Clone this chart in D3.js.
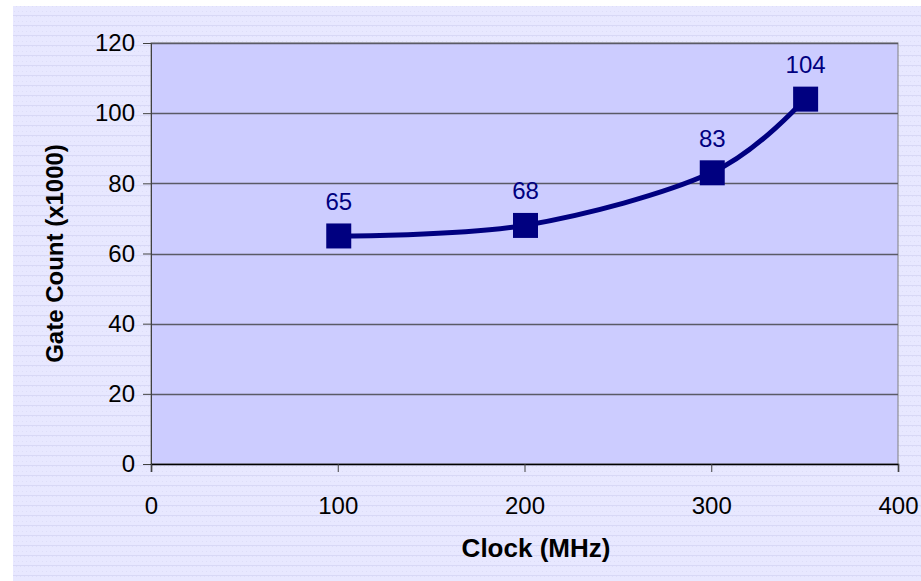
<!DOCTYPE html>
<html><head><meta charset="utf-8">
<script src="https://cdn.jsdelivr.net/npm/d3@7"></script>
<style>body{margin:0;background:#fff}svg{display:block}</style>
</head><body>
<svg id="c" width="921" height="581"></svg>
<script>
const clockMHz = [100, 200, 300, 350];
const gateCount = [65, 68, 83, 104];
const xTicks = [0, 100, 200, 300, 400];
const yTicks = [0, 20, 40, 60, 80, 100, 120];

const svg = d3.select("#c");
const W = 921, H = 581;
const FONT = "Liberation Sans, Arial, sans-serif";
const defs = svg.append("defs");
const pat = defs.append("pattern").attr("id","bgp").attr("patternUnits","userSpaceOnUse")
  .attr("width",4).attr("height",10).attr("y",6);
pat.append("rect").attr("width",4).attr("height",10).attr("fill","#e8e8ff");
pat.append("rect").attr("x",0).attr("y",0).attr("width",1).attr("height",1).attr("fill","#dedef8");
pat.append("rect").attr("x",2).attr("y",5).attr("width",1).attr("height",1).attr("fill","#dedef8");
pat.append("rect").attr("x",0).attr("y",9).attr("width",4).attr("height",1).attr("fill","#d8d8f6");

svg.append("rect").attr("x",13).attr("y",6).attr("width",W-13).attr("height",H-6).attr("fill","url(#bgp)");

const m = {left:151, right:898, top:43, bottom:464};
const x = d3.scaleLinear().domain([0,400]).range([m.left, m.right]);
const y = d3.scaleLinear().domain([0,120]).range([m.bottom, m.top]);

svg.append("rect").attr("x",m.left).attr("y",m.top).attr("width",m.right-m.left).attr("height",m.bottom-m.top)
  .attr("fill","#ccccff").attr("stroke","#808080").attr("stroke-width",1);

// gridlines
svg.append("g").selectAll("line").data(yTicks.filter(d=>d>0)).join("line")
  .attr("x1",m.left).attr("x2",m.right).attr("y1",d=>Math.round(y(d))+0.5).attr("y2",d=>Math.round(y(d))+0.5)
  .attr("stroke","#5a5a66").attr("stroke-width",1.3);

// axes
const yAxis = d3.axisLeft(y).tickValues(yTicks).tickSize(8).tickPadding(8).tickFormat(d3.format("d"));
const gy = svg.append("g").attr("transform",`translate(${m.left},0)`).call(yAxis);
gy.select(".domain").attr("stroke","#404040");
gy.selectAll(".tick line").attr("stroke","#404040");
gy.selectAll("text").attr("font-family",FONT).attr("font-size",24).attr("fill","#000");

const xAxis = d3.axisBottom(x).tickValues(xTicks).tickSize(8).tickPadding(25).tickFormat(d3.format("d"));
const gx = svg.append("g").attr("transform",`translate(0,${m.bottom})`).call(xAxis);
gx.select(".domain").attr("stroke","#000").attr("stroke-width",1.5);
gx.selectAll(".tick line").attr("stroke","#404040");
gx.selectAll("text").attr("font-family",FONT).attr("font-size",24).attr("fill","#000");

// titles
svg.append("text").attr("x",536).attr("y",557).attr("text-anchor","middle")
  .attr("font-family",FONT).attr("font-weight","bold").attr("font-size",26)
  .text("Clock (MHz)");
svg.append("text").attr("transform",`translate(63,${(m.top+m.bottom)/2}) rotate(-90)`).attr("text-anchor","middle")
  .attr("font-family",FONT).attr("font-weight","bold").attr("font-size",24)
  .text("Gate Count (x1000)");

const data = clockMHz.map((c,i)=>({c, v:gateCount[i]}));
const line = d3.line().x(d=>x(d.c)).y(d=>y(d.v)).curve(d3.curveCatmullRom.alpha(0));
svg.append("path").datum(data).attr("d",line).attr("fill","none").attr("stroke","#000080").attr("stroke-width",5);

const s = 25;
svg.append("g").selectAll("rect").data(data).join("rect")
  .attr("x",d=>x(d.c)-s/2+1).attr("y",d=>y(d.v)-s/2).attr("width",s).attr("height",s).attr("fill","#000080");

svg.append("g").selectAll("text").data(data).join("text")
  .attr("x",d=>x(d.c)+1).attr("y",d=>y(d.v)-26).attr("text-anchor","middle")
  .attr("font-family",FONT).attr("font-size",24).attr("fill","#000080")
  .text(d=>d.v);
</script>
</body></html>
